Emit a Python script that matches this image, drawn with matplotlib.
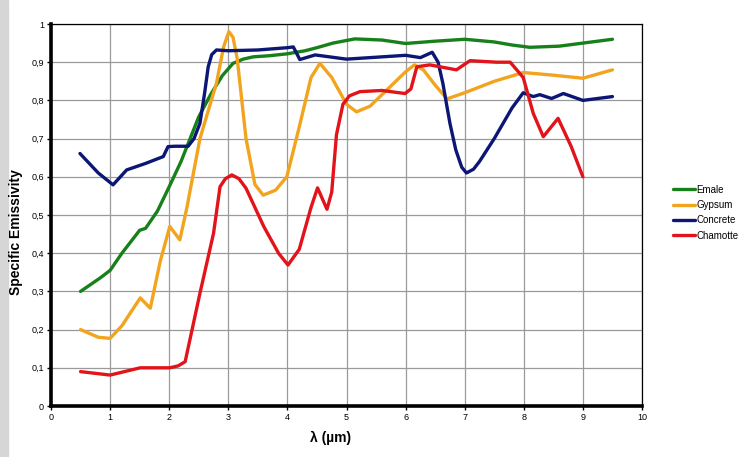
import numpy as np
from matplotlib import pyplot as plt
from matplotlib.patches import Rectangle

plt.rcParams['font.family'] = ['Liberation Sans', 'DejaVu Sans']

# wavelength (um) / emissivity
emale_x = [0.5, 0.83, 1.0, 1.2, 1.5, 1.6, 1.8, 2.0, 2.2, 2.5, 2.7, 2.9, 3.08, 3.25, 3.42, 3.7, 4.0, 4.3, 4.5, 4.77, 5.14, 5.6, 6.0, 6.5, 7.0, 7.5, 7.8, 8.1, 8.6, 9.0, 9.5]
emale_y = [0.30, 0.335, 0.355, 0.40, 0.46, 0.465, 0.51, 0.574, 0.64, 0.757, 0.815, 0.865, 0.897, 0.908, 0.914, 0.917, 0.922, 0.93, 0.938, 0.95, 0.961, 0.958, 0.949, 0.955, 0.96, 0.953, 0.945, 0.939, 0.942, 0.95, 0.96]

gypsum_x = [0.5, 0.8, 1.0, 1.2, 1.51, 1.68, 1.85, 2.01, 2.18, 2.3, 2.52, 2.8, 2.92, 3.01, 3.08, 3.15, 3.3, 3.45, 3.59, 3.8, 3.99, 4.2, 4.4, 4.55, 4.75, 5.0, 5.17, 5.4, 5.7, 6.0, 6.15, 6.3, 6.5, 6.7, 7.0, 7.5, 7.99, 8.5, 9.0, 9.5]
gypsum_y = [0.20, 0.18, 0.177, 0.21, 0.283, 0.256, 0.38, 0.47, 0.435, 0.52, 0.70, 0.845, 0.94, 0.98, 0.965, 0.91, 0.70, 0.58, 0.552, 0.565, 0.60, 0.73, 0.86, 0.897, 0.86, 0.79, 0.77, 0.785, 0.83, 0.875, 0.893, 0.88, 0.84, 0.804, 0.82, 0.85, 0.873, 0.866, 0.858, 0.88]

concrete_x = [0.49, 0.8, 1.05, 1.28, 1.6, 1.9, 1.98, 2.1, 2.32, 2.42, 2.52, 2.6, 2.66, 2.72, 2.8, 3.0, 3.5, 4.0, 4.1, 4.21, 4.47, 5.0, 5.5, 6.0, 6.25, 6.45, 6.55, 6.63, 6.75, 6.85, 6.95, 7.03, 7.15, 7.25, 7.5, 7.8, 7.99, 8.16, 8.27, 8.47, 8.67, 9.0, 9.5]
concrete_y = [0.661, 0.61, 0.579, 0.618, 0.635, 0.653, 0.679, 0.68, 0.68, 0.70, 0.74, 0.82, 0.888, 0.92, 0.932, 0.93, 0.932, 0.938, 0.94, 0.907, 0.919, 0.908, 0.913, 0.918, 0.912, 0.926, 0.90, 0.845, 0.74, 0.67, 0.625, 0.61, 0.62, 0.64, 0.70, 0.78, 0.82, 0.81, 0.815, 0.805, 0.818, 0.80, 0.81]

chamotte_x = [0.5, 1.0, 1.51, 2.01, 2.15, 2.27, 2.52, 2.75, 2.86, 2.95, 3.06, 3.18, 3.3, 3.6, 3.85, 4.01, 4.2, 4.4, 4.51, 4.67, 4.75, 4.83, 4.94, 5.05, 5.23, 5.6, 5.99, 6.09, 6.19, 6.41, 6.86, 7.09, 7.54, 7.77, 7.99, 8.16, 8.33, 8.58, 8.8, 9.0]
chamotte_y = [0.09, 0.081, 0.10, 0.10, 0.105, 0.116, 0.295, 0.452, 0.574, 0.595, 0.605, 0.595, 0.57, 0.47, 0.40, 0.369, 0.41, 0.52, 0.571, 0.515, 0.56, 0.71, 0.79, 0.812, 0.823, 0.826, 0.818, 0.83, 0.888, 0.893, 0.88, 0.904, 0.90, 0.90, 0.86, 0.766, 0.705, 0.753, 0.68, 0.60]

series = [
	('Emale', emale_x, emale_y, '#17801a'),
	('Gypsum', gypsum_x, gypsum_y, '#f2a41f'),
	('Concrete', concrete_x, concrete_y, '#0b1675'),
	('Chamotte', chamotte_x, chamotte_y, '#e2131a'),
]

fig = plt.figure(figsize=(7.45, 4.57), dpi=100)
fig.patches.append(Rectangle((0, 0), 8/745, 1, transform=fig.transFigure, color='#d6d6d6', zorder=0))
ax = fig.add_axes([51/745, 1 - 406/457, 591/745, 382/457])

for name, xs, ys, col in series:
	ax.plot(xs, ys, color=col, lw=2.4, label=name, solid_joinstyle='round', solid_capstyle='round')

ax.set_xlim(0, 10)
ax.set_ylim(0, 1)
ax.set_xticks(range(11))
yt = np.round(np.arange(0, 1.01, 0.1), 1)
ax.set_yticks(yt)
ax.set_yticklabels(['0' if v == 0 else ('1' if v == 1 else f'{v:.1f}'.replace('.', ',')) for v in yt])
ax.tick_params(labelsize=6.5, length=3, width=1, pad=2)
ax.grid(True, color='#9a9a9a', lw=0.9)
ax.set_axisbelow(True)

for side in ['left', 'bottom']:
	ax.spines[side].set_linewidth(2.6)
for side in ['top', 'right']:
	ax.spines[side].set_linewidth(0.9)

fig.text(331/745, 1 - 438/457, 'λ (µm)', fontsize=10, fontweight='bold', ha='center', va='center')
fig.text(16/745, 1 - 232/457, 'Specific Emissivity', fontsize=10, fontweight='bold', ha='center', va='center', rotation=90)

fig.legend(loc='upper left', bbox_to_anchor=(664/745, 1 - 176/457), frameon=False,
	fontsize=7, handlelength=2.3, handletextpad=0.1, labelspacing=0.55)

plt.savefig('out.png', dpi=100)
